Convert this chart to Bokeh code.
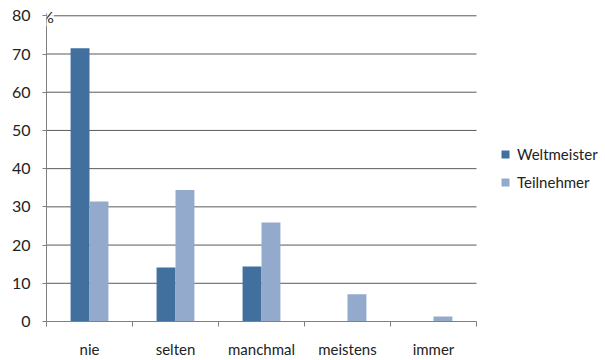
from bokeh.plotting import figure
from bokeh.models import ColumnDataSource, FixedTicker, Legend, LegendItem, Label
from bokeh.embed import file_html
from bokeh.resources import INLINE

categories = ["nie", "selten", "manchmal", "meistens", "immer"]
weltmeister = [71.5, 14.1, 14.4, 0.0, 0.0]
teilnehmer = [31.4, 34.4, 25.9, 7.1, 1.3]
series_names = ["Weltmeister", "Teilnehmer"]
colors = ["#41709f", "#93aacc"]
y_ticks = [0, 10, 20, 30, 40, 50, 60, 70, 80]

FONT = "Lato"
idx = list(range(len(categories)))
n = len(categories)
bw = 0.22

p = figure(width=605, height=360, output_backend="svg", toolbar_location=None,
           x_range=(0, 6.5), y_range=(0, 84),
           min_border_left=46, min_border_right=0, min_border_top=0, min_border_bottom=39)
p.outline_line_color = None
p.background_fill_color = "white"

# horizontal grid lines only across the category area
p.segment(x0=[0] * (len(y_ticks) - 1), x1=[n] * (len(y_ticks) - 1), y0=y_ticks[1:], y1=y_ticks[1:],
          line_color="#5a5a5a", line_width=1)

src_w = ColumnDataSource(dict(x=[i + 0.5 - bw / 2 for i in idx], top=weltmeister))
src_t = ColumnDataSource(dict(x=[i + 0.5 + bw / 2 for i in idx], top=teilnehmer))
r_w = p.vbar(x="x", top="top", width=bw, bottom=0, source=src_w, fill_color=colors[0], line_color=None)
r_t = p.vbar(x="x", top="top", width=bw, bottom=0, source=src_t, fill_color=colors[1], line_color=None)

# axes
p.xaxis.ticker = FixedTicker(ticks=[i + 0.5 for i in idx], minor_ticks=list(range(n + 1)))
p.xaxis.bounds = (0, n)
p.xaxis.major_label_overrides = {i + 0.5: c for i, c in zip(idx, categories)}
p.xaxis.major_tick_out = 0
p.xaxis.major_tick_in = 0
p.xaxis.minor_tick_out = 5
p.xaxis.minor_tick_in = 0
p.xaxis.minor_tick_line_color = "#808080"
p.xaxis.axis_line_color = "#808080"
p.xaxis.major_label_standoff = 13
p.xaxis.major_label_text_font = FONT
p.xaxis.major_label_text_font_size = "15px"
p.xaxis.major_label_text_color = "#222222"

p.yaxis.ticker = FixedTicker(ticks=y_ticks)
p.yaxis.bounds = (0, 80)
p.yaxis.major_tick_out = 4
p.yaxis.major_tick_in = 0
p.yaxis.minor_tick_line_color = None
p.yaxis.major_tick_line_color = "#808080"
p.yaxis.axis_line_color = "#808080"
p.yaxis.major_label_standoff = 12
p.yaxis.major_label_text_font = FONT
p.yaxis.major_label_text_font_size = "16px"
p.yaxis.major_label_text_color = "#222222"

p.xgrid.grid_line_color = None
p.ygrid.grid_line_color = None

pct = Label(x=0, y=80, text="%", text_align="center", text_baseline="middle", x_offset=1, y_offset=-1,
            text_font=FONT, text_font_size="16px", text_color="#222222",
            background_fill_color="white", background_fill_alpha=0.85)
p.add_layout(pct)

legend = Legend(items=[LegendItem(label=series_names[0], renderers=[r_w]),
                       LegendItem(label=series_names[1], renderers=[r_t])],
                location=(454, 130), border_line_color=None, background_fill_alpha=0,
                label_text_font=FONT, label_text_font_size="15px", label_text_color="#222222",
                glyph_width=10, glyph_height=10, spacing=10, label_standoff=7, padding=0, margin=0)
p.add_layout(legend, "center")

open("out.html", "w").write(file_html(p, INLINE))
